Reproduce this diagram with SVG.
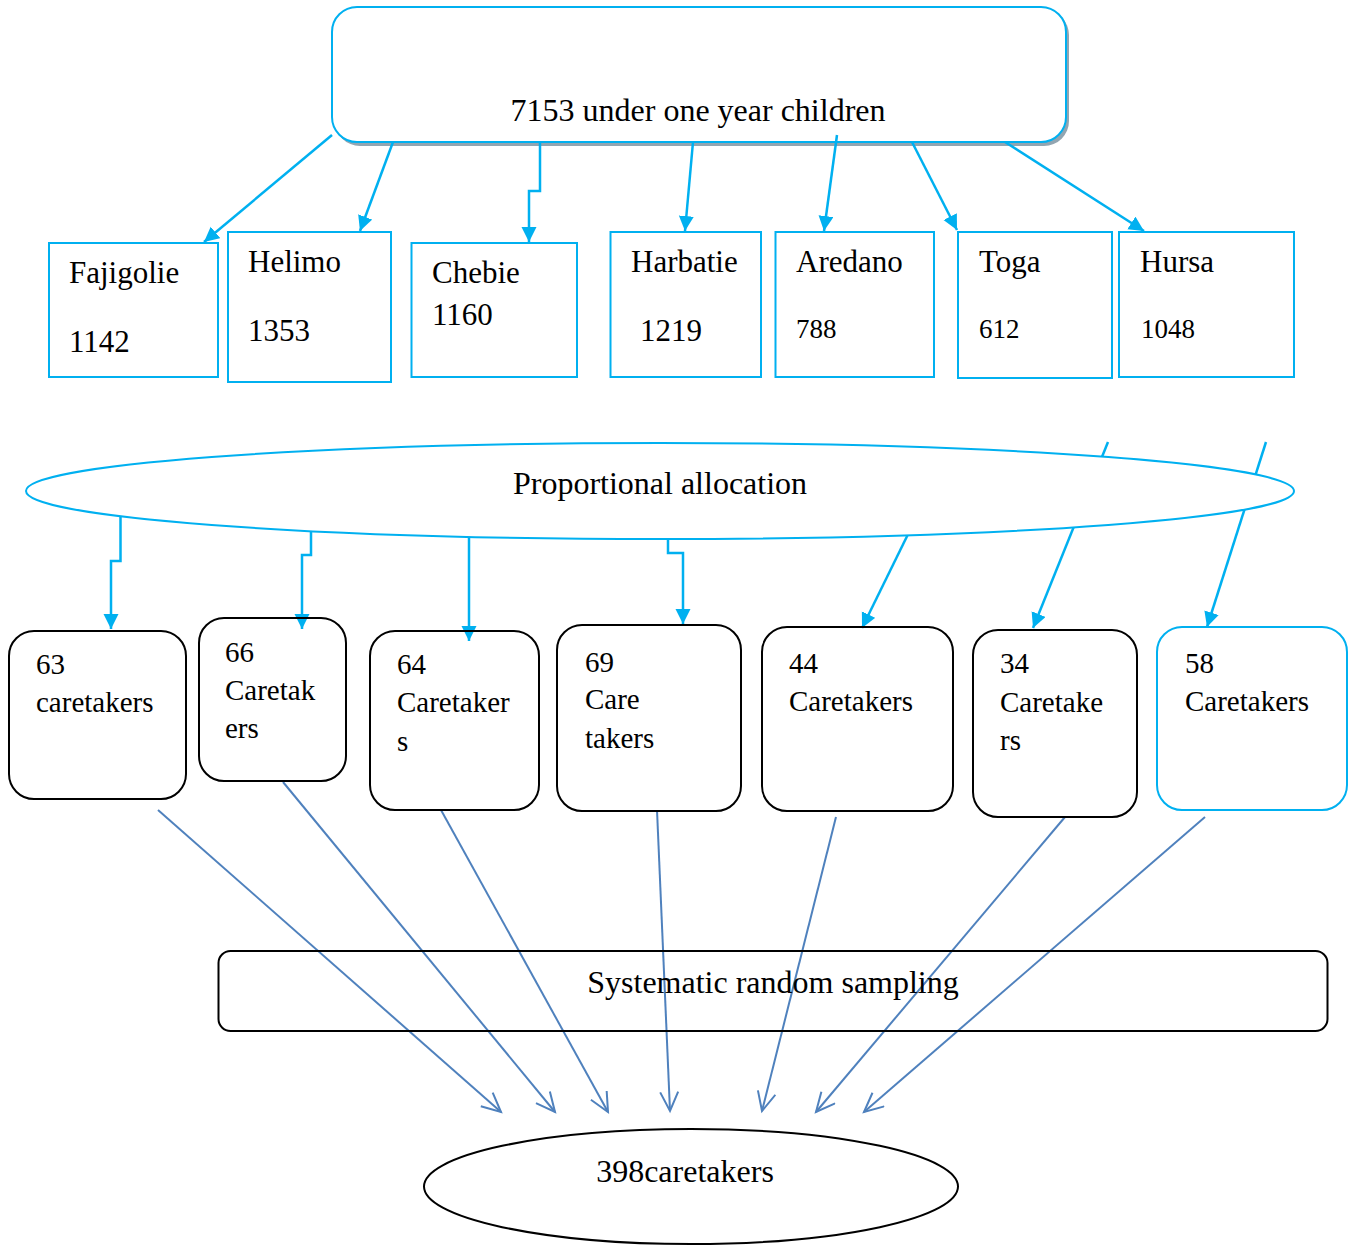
<svg xmlns="http://www.w3.org/2000/svg" width="1348" height="1247" viewBox="0 0 1348 1247">
<style>
text{font-family:"Liberation Serif","Times New Roman",serif;fill:#000}
.big{font-size:32px}
.reg{font-size:31px}
.num{font-size:27px}
.ct{font-size:29px}
.bbox{fill:none;stroke:#00B0F0;stroke-width:2}
.cbox{fill:none;stroke:#000;stroke-width:2}
.ca{fill:none;stroke:#00B0F0;stroke-width:2.5;marker-end:url(#fa)}
.sa{fill:none;stroke:#4F81BD;stroke-width:2;marker-end:url(#oa)}
</style>
<defs>
<marker id="fa" markerUnits="userSpaceOnUse" markerWidth="16" markerHeight="16" refX="15" refY="7.5" orient="auto">
<path d="M0,0 L15,7.5 L0,15 Z" fill="#00B0F0"/>
</marker>
<marker id="oa" markerUnits="userSpaceOnUse" markerWidth="24" markerHeight="24" refX="20" refY="10" orient="auto">
<path d="M1,1 L20,10 L1,19" fill="none" stroke="#4F81BD" stroke-width="2"/>
</marker>
</defs>

<g id="node-top">
<rect x="335" y="10" width="734" height="136" rx="25" fill="#92A5B1"/>
<rect x="332" y="7" width="734" height="135" rx="25" fill="#fff" stroke="#00B0F0" stroke-width="2"/>
<text class="big" x="698" y="121" text-anchor="middle">7153 under one year children</text>
</g>

<g id="node-fajigolie">
<rect class="bbox" x="49" y="243" width="169" height="134"/>
<text class="reg" x="69" y="283">Fajigolie</text>
<text class="reg" x="69" y="352">1142</text>
</g>
<g id="node-helimo">
<rect class="bbox" x="228" y="232" width="163" height="150"/>
<text class="reg" x="248" y="272">Helimo</text>
<text class="reg" x="248" y="341">1353</text>
</g>
<g id="node-chebie">
<rect class="bbox" x="411.5" y="243" width="165.5" height="134"/>
<text class="reg" x="432" y="283">Chebie</text>
<text class="reg" x="432" y="325">1160</text>
</g>
<g id="node-harbatie">
<rect class="bbox" x="610.5" y="232" width="150.5" height="145"/>
<text class="reg" x="631" y="272">Harbatie</text>
<text class="reg" x="640" y="341">1219</text>
</g>
<g id="node-aredano">
<rect class="bbox" x="775.5" y="232" width="158.5" height="145"/>
<text class="reg" x="796" y="272">Aredano</text>
<text class="num" x="796" y="338">788</text>
</g>
<g id="node-toga">
<rect class="bbox" x="958" y="232" width="154" height="146"/>
<text class="reg" x="979" y="272">Toga</text>
<text class="num" x="979" y="338">612</text>
</g>
<g id="node-hursa">
<rect class="bbox" x="1119" y="232" width="175" height="145"/>
<text class="reg" x="1140" y="272">Hursa</text>
<text class="num" x="1141" y="338">1048</text>
</g>

<g id="connectors">
<path class="ca" d="M332,135 L204,242"/>
<path class="ca" d="M393,142 L360,231"/>
<path class="ca" d="M540,142 V191 H529 V242"/>
<path class="ca" d="M693,142 L685,231"/>
<path class="ca" d="M837,135 L824,231"/>
<path class="ca" d="M912,142 L957,230"/>
<path class="ca" d="M1005,142 L1144,231"/>
<path class="ca" d="M120.5,510 V561 H111 V629"/>
<path class="ca" d="M311,525 V555 H302 V629"/>
<path class="ca" d="M469,530 V641"/>
<path class="ca" d="M668,530 V553 H683 V624"/>
<path class="ca" d="M915,520 L862,628"/>
<path class="ca" d="M1108,442 L1033,628"/>
<path class="ca" d="M1266,442 L1207,627"/>
<path class="sa" d="M158,810 L501,1112"/>
<path class="sa" d="M283,782 L555,1112"/>
<path class="sa" d="M441,810 L608,1112"/>
<path class="sa" d="M657,810 L670,1111"/>
<path class="sa" d="M836,817 L762,1111"/>
<path class="sa" d="M1065,817 L816,1112"/>
<path class="sa" d="M1205,817 L864,1112"/>
</g>

<g id="node-proportional">
<ellipse cx="660" cy="491" rx="634" ry="48" fill="#fff" stroke="#00B0F0" stroke-width="2"/>
<text class="big" x="660" y="494" text-anchor="middle">Proportional allocation</text>
</g>

<g id="node-c63">
<rect class="cbox" x="9" y="631" width="177" height="168" rx="25"/>
<text class="ct" x="36" y="674">63</text>
<text class="ct" x="36" y="712">caretakers</text>
</g>
<g id="node-c66">
<rect class="cbox" x="199" y="618" width="147" height="163" rx="25"/>
<text class="ct" x="225" y="662">66</text>
<text class="ct" x="225" y="700">Caretak</text>
<text class="ct" x="225" y="738">ers</text>
</g>
<g id="node-c64">
<rect class="cbox" x="370" y="631" width="169" height="179" rx="25"/>
<text class="ct" x="397" y="674">64</text>
<text class="ct" x="397" y="712">Caretaker</text>
<text class="ct" x="397" y="751">s</text>
</g>
<g id="node-c69">
<rect class="cbox" x="557" y="625" width="184" height="186" rx="25"/>
<text class="ct" x="585" y="672">69</text>
<text class="ct" x="585" y="709">Care</text>
<text class="ct" x="585" y="748">takers</text>
</g>
<g id="node-c44">
<rect class="cbox" x="762" y="627" width="191" height="184" rx="25"/>
<text class="ct" x="789" y="673">44</text>
<text class="ct" x="789" y="711">Caretakers</text>
</g>
<g id="node-c34">
<rect class="cbox" x="973" y="630" width="164" height="187" rx="25"/>
<text class="ct" x="1000" y="673">34</text>
<text class="ct" x="1000" y="712">Caretake</text>
<text class="ct" x="1000" y="750">rs</text>
</g>
<g id="node-c58">
<rect x="1157" y="627" width="190" height="183" rx="25" fill="none" stroke="#00B0F0" stroke-width="2"/>
<text class="ct" x="1185" y="673">58</text>
<text class="ct" x="1185" y="711">Caretakers</text>
</g>

<g id="node-systematic">
<rect class="cbox" x="218.5" y="951" width="1109" height="80" rx="12"/>
<text class="big" x="773" y="993" text-anchor="middle">Systematic random sampling</text>
</g>

<g id="node-total">
<ellipse cx="691" cy="1186.5" rx="267" ry="57.5" fill="none" stroke="#000" stroke-width="2"/>
<text class="big" x="685" y="1182" text-anchor="middle">398caretakers</text>
</g>
</svg>
